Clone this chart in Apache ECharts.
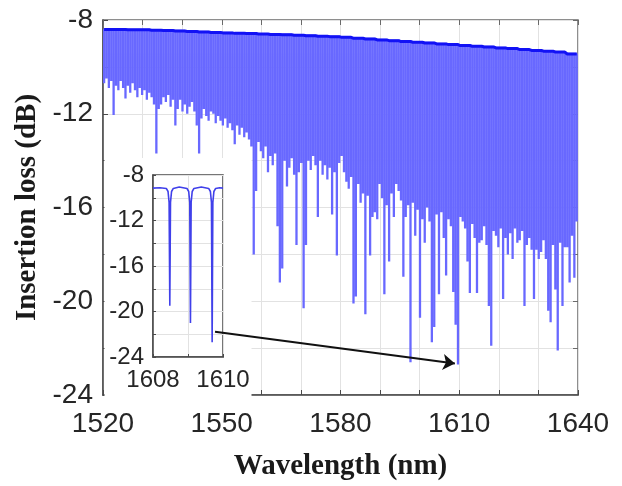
<!DOCTYPE html>
<html>
<head>
<meta charset="utf-8">
<script src="https://cdn.jsdelivr.net/npm/echarts@6/dist/echarts.min.js"></script>
<style>html,body{margin:0;padding:0;background:#fff}#c{width:622px;height:486px}</style>
</head>
<body>
<div id="c"></div>
<script>
// Dip (resonance) wavelengths of the comb, nm
const dipWl = [
1520.28,1520.88,1521.48,1522.08,1522.68,1523.28,1523.88,1524.48,1525.08,1525.68,
1526.28,1526.88,1527.48,1528.08,1528.68,1529.28,1529.88,1530.48,1531.08,1531.68,
1532.28,1532.88,1533.48,1534.08,1534.68,1535.28,1535.88,1536.48,1537.08,1537.68,
1538.28,1538.88,1539.48,1540.08,1540.68,1541.28,1541.88,1542.48,1543.08,1543.68,
1544.28,1544.88,1545.48,1546.08,1546.68,1547.28,1547.88,1548.48,1549.08,1549.68,
1550.28,1550.88,1551.48,1552.08,1552.68,1553.28,1553.88,1554.48,1555.08,1555.68,
1556.28,1556.88,1557.48,1558.08,1558.68,1559.28,1559.88,1560.48,1561.08,1561.68,
1562.28,1562.88,1563.48,1564.08,1564.68,1565.28,1565.88,1566.48,1567.08,1567.68,
1568.28,1568.88,1569.48,1570.08,1570.68,1571.28,1571.88,1572.48,1573.08,1573.68,
1574.28,1574.88,1575.48,1576.08,1576.68,1577.28,1577.88,1578.48,1579.08,1579.68,
1580.28,1580.88,1581.48,1582.08,1582.68,1583.28,1583.88,1584.48,1585.08,1585.68,
1586.28,1586.88,1587.48,1588.08,1588.68,1589.28,1589.88,1590.48,1591.08,1591.68,
1592.28,1592.88,1593.48,1594.08,1594.68,1595.28,1595.88,1596.48,1597.08,1597.68,
1598.28,1598.88,1599.48,1600.08,1600.68,1601.28,1601.88,1602.48,1603.08,1603.68,
1604.28,1604.88,1605.48,1606.08,1606.68,1607.28,1607.88,1608.48,1609.08,1609.68,
1610.28,1610.88,1611.48,1612.08,1612.68,1613.28,1613.88,1614.48,1615.08,1615.68,
1616.28,1616.88,1617.48,1618.08,1618.68,1619.28,1619.88,1620.48,1621.08,1621.68,
1622.28,1622.88,1623.48,1624.08,1624.68,1625.28,1625.88,1626.48,1627.08,1627.68,
1628.28,1628.88,1629.48,1630.08,1630.68,1631.28,1631.88,1632.48,1633.08,1633.68,
1634.28,1634.88,1635.48,1636.08,1636.68,1637.28,1637.88,1638.48,1639.08,1639.68
];
// Insertion loss at the bottom of each dip, dB
const dipLoss = [
-10.7,-10.5,-10.9,-10.6,-12.05,-10.8,-11.0,-10.6,-10.9,-11.35,
-10.8,-11.1,-10.7,-11.0,-11.3,-10.9,-11.2,-11.0,-11.4,-11.1,
-11.3,-11.6,-13.7,-11.8,-11.6,-11.3,-11.5,-11.2,-11.7,-11.4,
-12.5,-11.8,-11.4,-11.9,-11.6,-12.0,-11.7,-11.5,-11.9,-12.5,
-13.7,-12.2,-11.8,-12.1,-12.3,-11.9,-12.0,-12.4,-12.1,-12.3,
-12.5,-12.2,-12.6,-12.4,-12.7,-13.3,-12.5,-12.9,-12.6,-13.0,
-12.8,-13.1,-13.4,-18.0,-15.3,-13.2,-13.6,-13.9,-13.4,-14.5,
-13.8,-14.2,-13.7,-16.8,-19.2,-18.6,-14.0,-15.1,-14.3,-13.9,
-14.6,-17.6,-14.5,-14.1,-20.3,-17.6,-14.0,-14.4,-13.8,-14.2,
-16.4,-14.0,-14.6,-14.2,-14.8,-14.3,-16.3,-14.5,-18.05,-14.1,
-13.8,-14.5,-14.9,-15.2,-14.7,-20.1,-19.8,-15.0,-15.8,-15.4,
-20.55,-15.5,-18.05,-16.4,-16.2,-16.5,-15.0,-15.6,-19.7,-15.9,
-18.3,-15.4,-16.4,-15.0,-15.3,-15.7,-18.95,-16.4,-15.9,-22.6,
-15.8,-17.2,-16.1,-20.7,-16.5,-17.5,-16.0,-16.6,-21.75,-21.1,
-16.3,-19.7,-16.2,-17.3,-18.9,-16.5,-16.8,-19.6,-21.0,-22.7,
-16.4,-16.6,-16.9,-18.3,-19.65,-16.7,-17.3,-19.65,-17.5,-17.4,
-16.8,-17.6,-20.2,-21.9,-17.0,-17.2,-17.7,-16.9,-19.9,-17.3,
-18.0,-17.1,-18.2,-16.9,-17.5,-17.4,-17.0,-20.2,-17.6,-17.3,
-17.8,-19.9,-17.8,-18.2,-17.9,-17.4,-18.2,-20.4,-20.9,-17.6,
-19.5,-22.1,-17.5,-20.2,-17.7,-17.7,-19.2,-17.2,-19.0,-16.6
];
// Out-of-resonance (peak) level, one value per block of five dips, dB
const peakLoss = [
-8.40,-8.41,-8.42,-8.42,-8.44,-8.45,-8.47,-8.49,-8.51,-8.53,
-8.55,-8.57,-8.58,-8.60,-8.62,-8.63,-8.65,-8.67,-8.69,-8.71,
-8.74,-8.78,-8.81,-8.85,-8.88,-8.92,-8.95,-8.98,-9.02,-9.05,
-9.09,-9.12,-9.15,-9.19,-9.22,-9.26,-9.30,-9.33,-9.37,-9.45
];
// Inset (zoom 1608-1610 nm)
const insetWl = [1608.00,1608.20,1608.38,1608.43,1608.46,1608.48,1608.50,1608.53,1608.58,1608.75,
  1608.97,1609.02,1609.05,1609.07,1609.09,1609.12,1609.17,1609.38,
  1609.59,1609.64,1609.67,1609.69,1609.71,1609.74,1609.79,1609.90,1610.00];
const insetLoss = [-9.15,-9.12,-9.18,-9.45,-10.4,-19.5,-10.4,-9.45,-9.18,-9.05,
  -9.18,-9.45,-10.4,-21.0,-10.4,-9.45,-9.18,-9.05,
  -9.18,-9.45,-10.4,-22.7,-10.4,-9.45,-9.18,-9.12,-9.15];
// Tick labels
const xLabels = [1520, 1550, 1580, 1610, 1640];
const yLabels = [-8, -12, -16, -20, -24];
const insetXLabels = [1608, 1610];
const insetYLabels = [-8, -12, -16, -20, -24];
// Arrow annotation (main-axis data coords)
const arrowFrom = [1548.3, -21.3];
const arrowTo = [1608.9, -22.66];

const mainData = [];
dipWl.forEach((w, i) => {
  const p = peakLoss[Math.floor(i / 5)];
  mainData.push([w, p], [w, dipLoss[i]], [w, p]);
});
const topData = dipWl.map((w, i) => [w, peakLoss[Math.floor(i / 5)]]);
const insetData = insetWl.map((w, i) => [w, insetLoss[i]]);

const sans = 'Liberation Sans, Arial, sans-serif';
const serif = 'Liberation Serif, Times New Roman, serif';
const gridLine = { show: true, lineStyle: { color: '#e2e2e2', width: 1 } };

const chart = echarts.init(document.getElementById('c'), null, { renderer: 'canvas' });
chart.setOption({
  animation: false,
  backgroundColor: '#fff',
  grid: [
    { left: 103, top: 20, right: 44, bottom: 84, show: true, borderColor: '#6a6a6a', borderWidth: 1.5, containLabel: false },
    { left: 153, top: 175, width: 70, height: 182, show: true, backgroundColor: '#fff', borderColor: '#4a4a4a', borderWidth: 1.5, z: 8 }
  ],
  graphic: [
    { type: 'rect', shape: { x: 104.5, y: 158, width: 147, height: 238 }, style: { fill: '#fff' }, z: 5, silent: true }
  ],
  xAxis: [
    { type: 'value', gridIndex: 0, min: 1520, max: 1640, interval: 10,
      name: 'Wavelength (nm)', nameLocation: 'middle', nameGap: 57,
      nameTextStyle: { fontFamily: serif, fontWeight: 'bold', fontSize: 29, color: '#1a1a1a' },
      axisLine: { show: true, onZero: false, lineStyle: { color: '#4a4a4a', width: 1.5 } },
      axisTick: { show: true, inside: true, length: 5, lineStyle: { color: '#4a4a4a' } },
      axisLabel: { fontFamily: sans, fontSize: 28, color: '#262626', margin: 15,
        formatter: v => xLabels.includes(v) ? String(v) : '' },
      splitLine: gridLine },
    { type: 'value', gridIndex: 0, position: 'top', min: 1520, max: 1640, interval: 10,
      axisLine: { show: false }, axisTick: { show: true, inside: true, length: 5, lineStyle: { color: '#6a6a6a' } },
      axisLabel: { show: false }, splitLine: { show: false } },
    { type: 'value', gridIndex: 1, min: 1608, max: 1610, interval: 1, z: 10,
      axisLine: { show: true, onZero: false, lineStyle: { color: '#4a4a4a', width: 1.5 } },
      axisTick: { show: true, inside: true, length: 3, lineStyle: { color: '#4a4a4a' } },
      axisLabel: { fontFamily: sans, fontSize: 24, color: '#262626', margin: 11,
        formatter: v => insetXLabels.includes(v) ? String(v) : '' },
      splitLine: gridLine }
  ],
  yAxis: [
    { type: 'value', gridIndex: 0, min: -24, max: -8, interval: 2,
      name: 'Insertion loss (dB)', nameLocation: 'middle', nameGap: 58,
      nameTextStyle: { fontFamily: serif, fontWeight: 'bold', fontSize: 29, color: '#1a1a1a' },
      axisLine: { show: true, onZero: false, lineStyle: { color: '#4a4a4a', width: 1.5 } },
      axisTick: { show: true, inside: true, length: 5, lineStyle: { color: '#4a4a4a' } },
      axisLabel: { fontFamily: sans, fontSize: 28, color: '#262626', margin: 10,
        formatter: v => yLabels.includes(v) ? String(v) : '' },
      splitLine: gridLine },
    { type: 'value', gridIndex: 0, position: 'right', min: -24, max: -8, interval: 2,
      axisLine: { show: false }, axisTick: { show: true, inside: true, length: 5, lineStyle: { color: '#6a6a6a' } },
      axisLabel: { show: false }, splitLine: { show: false } },
    { type: 'value', gridIndex: 1, min: -24, max: -8, interval: 2, z: 10,
      axisLine: { show: true, onZero: false, lineStyle: { color: '#4a4a4a', width: 1.5 } },
      axisTick: { show: true, inside: true, length: 3, lineStyle: { color: '#4a4a4a' } },
      axisLabel: { fontFamily: sans, fontSize: 24, color: '#262626', margin: 9,
        formatter: v => insetYLabels.includes(v) ? String(v) : '' },
      splitLine: gridLine }
  ],
  series: [
    { type: 'line', name: 'spectrum', xAxisIndex: 0, yAxisIndex: 0, data: mainData,
      showSymbol: false, symbol: 'none', silent: true, z: 2, clip: true,
      lineStyle: { color: '#6868ff', width: 2.3 } },
    { type: 'line', name: 'top', xAxisIndex: 0, yAxisIndex: 0, data: topData,
      showSymbol: false, symbol: 'none', silent: true, z: 3, clip: true,
      lineStyle: { color: '#1212f5', width: 3 } },
    { type: 'line', name: 'inset', xAxisIndex: 2, yAxisIndex: 2, data: insetData,
      showSymbol: false, symbol: 'none', silent: true, z: 11, clip: true,
      lineStyle: { color: '#4040ea', width: 1.6 } },
    { type: 'lines', coordinateSystem: 'cartesian2d', xAxisIndex: 0, yAxisIndex: 0, z: 20, silent: true,
      symbol: ['none', 'arrow'], symbolSize: 12,
      lineStyle: { color: '#111', width: 2, opacity: 1 },
      data: [{ coords: [arrowFrom, arrowTo] }] }
  ]
});
</script>
</body>
</html>
